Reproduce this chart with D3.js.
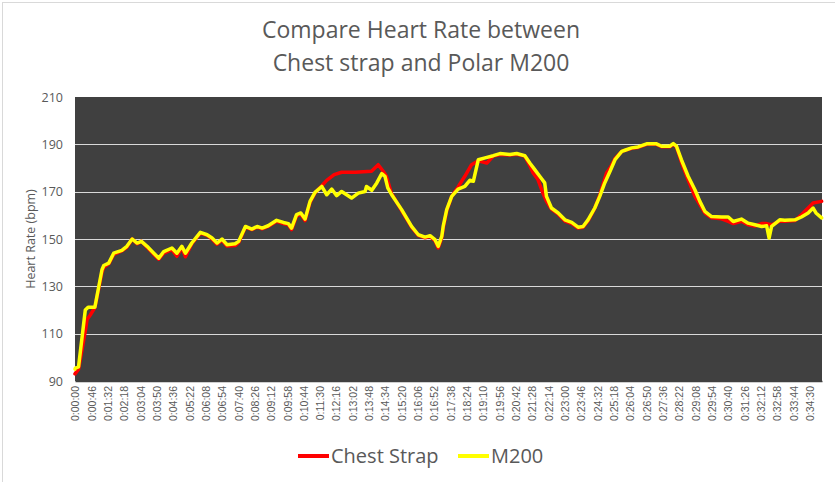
<!DOCTYPE html>
<html>
<head>
<meta charset="utf-8">
<script src="https://cdn.jsdelivr.net/npm/d3@7"></script>
<style>
  body { margin: 0; background: #fff; }
  text { fill: #595959; }
</style>
</head>
<body>
<script>
// chart size and plot box
const width = 835;
const height = 482;
const margin = { top: 97, right: 13, bottom: 101, left: 75 };

// elapsed time in seconds
const chestTime = [0, 10, 30, 34, 43, 56, 76, 81, 95, 109, 132, 146, 161, 175, 187, 203, 222, 236, 250, 273, 287, 301, 311, 329, 353, 372, 386, 400, 414, 428, 451, 461, 480, 498, 513, 527, 544, 568, 587, 601, 610, 624, 636, 648, 662, 676, 695, 709, 730, 751, 790, 835, 854, 868, 877, 891, 920, 948, 967, 986, 1000, 1014, 1023, 1033, 1037, 1047, 1061, 1079, 1098, 1117, 1136, 1160, 1178, 1197, 1225, 1244, 1267, 1281, 1290, 1304, 1318, 1328, 1342, 1361, 1380, 1399, 1417, 1431, 1445, 1464, 1478, 1497, 1507, 1521, 1540, 1568, 1586, 1610, 1638, 1652, 1675, 1685, 1694, 1708, 1727, 1746, 1760, 1774, 1793, 1821, 1840, 1854, 1877, 1896, 1915, 1934, 1948, 1962, 1985, 1999, 2028, 2046, 2060, 2079, 2103];
const chestHR = [93, 95, 112, 116, 117.9, 121, 136, 138, 139.5, 143.5, 145, 146.5, 150, 148, 149, 146.5, 143.5, 141.5, 144, 145.5, 142.7, 146.5, 142.5, 148, 152.5, 151.5, 150, 147.8, 149.5, 147, 147.2, 148.5, 155, 154, 155, 154.3, 155.3, 157.5, 156.5, 156, 154, 159.8, 160.5, 157.8, 165.5, 169.5, 172.5, 174.8, 177.2, 178.2, 178.2, 178.6, 181.4, 178.6, 176.5, 169.4, 162, 155, 151.5, 150.5, 151, 149.3, 146.2, 150.5, 154.5, 162, 168, 172, 176.5, 181.4, 183, 182.1, 185, 185.7, 185.5, 185.8, 185, 181, 178, 175.1, 169.4, 165.9, 162.6, 160.5, 157.6, 156.5, 154.6, 155, 157.6, 163, 168.5, 177.9, 180, 184, 187, 188.3, 188.7, 190, 190, 189, 189, 190, 189, 182.5, 175, 168, 164.5, 161, 159, 158.5, 157.4, 156.5, 157.5, 156, 155.5, 156.5, 156.5, 156, 157.5, 157.5, 157.8, 160.2, 162.4, 165.2, 165.9];

const m200Time = [0, 1, 10, 29, 37, 56, 76, 81, 95, 109, 132, 146, 161, 175, 187, 203, 222, 236, 250, 273, 287, 301, 311, 329, 353, 372, 386, 400, 414, 428, 451, 461, 480, 498, 513, 527, 544, 568, 587, 601, 610, 624, 636, 648, 662, 676, 695, 709, 723, 737, 751, 779, 798, 817, 821, 836, 850, 864, 873, 881, 892, 920, 948, 967, 986, 1000, 1014, 1023, 1033, 1037, 1047, 1061, 1079, 1098, 1112, 1122, 1136, 1155, 1178, 1197, 1225, 1244, 1267, 1281, 1295, 1309, 1323, 1328, 1342, 1361, 1380, 1399, 1417, 1431, 1445, 1464, 1478, 1492, 1507, 1521, 1540, 1549, 1568, 1586, 1610, 1638, 1652, 1675, 1685, 1694, 1708, 1727, 1746, 1760, 1774, 1793, 1821, 1840, 1854, 1877, 1896, 1915, 1934, 1948, 1955, 1962, 1985, 1999, 2028, 2046, 2065, 2079, 2087, 2103];
const m200HR = [95, 95.4, 96, 120, 121.2, 121.2, 137, 138.8, 139.8, 144, 145.2, 146.9, 150, 148.3, 149, 146.9, 144, 141.9, 144.7, 146.2, 144, 146.9, 144, 148.3, 152.8, 151.8, 150.4, 148.3, 150, 147.6, 148, 149, 155.3, 154.2, 155.3, 154.6, 155.6, 157.9, 157, 156.5, 154.6, 160.3, 161, 158.4, 165.9, 169.7, 172.2, 168.7, 171.1, 168.3, 170.1, 167.3, 169.4, 170.1, 172.2, 170.6, 173.7, 177.6, 176.5, 171.6, 168.7, 162.4, 155.3, 151.8, 150.8, 151.4, 149.7, 146.9, 151.1, 155.3, 162.4, 168, 171.1, 172.2, 174.8, 174.4, 183.5, 184.3, 185.2, 186.1, 185.7, 186.1, 185.2, 182.1, 179.3, 176.5, 173.7, 168, 163.1, 161, 158.1, 157, 155, 155.3, 158.1, 163.1, 168, 173.7, 178.6, 183.5, 187, 187.5, 188.5, 188.9, 190.2, 190.2, 189.2, 189.2, 190.3, 189.2, 183.5, 176.5, 170.8, 165.9, 161.7, 159.5, 159.3, 159.3, 157.4, 158.4, 156.7, 156, 155.3, 155.6, 150.4, 155.3, 158.1, 157.9, 158.1, 159.3, 161, 163.1, 161, 158.9];

const seriesNames = ["Chest Strap", "M200"];
const seriesColors = ["#ff0000", "#ffff00"];

// category labels every 46 s, 0:00:00 .. 0:34:30
const tickSeconds = d3.range(0, 2071, 46);
const yTicks = [90, 110, 130, 150, 170, 190, 210];

function fmtTime(s) {
  const h = Math.floor(s / 3600);
  const m = Math.floor((s % 3600) / 60);
  const sec = s % 60;
  return `${h}:${String(m).padStart(2, "0")}:${String(sec).padStart(2, "0")}`;
}

const svg = d3.select("body")
  .append("svg")
  .attr("width", width)
  .attr("height", height);

// chart area border
svg.append("rect")
  .attr("x", 2.5).attr("y", 2.5)
  .attr("width", width + 10).attr("height", height + 10)
  .attr("fill", "none")
  .attr("stroke", "#d9d9d9");

const x = d3.scaleLinear()
  .domain([0, 2104])
  .range([margin.left, width - margin.right]);

const y = d3.scaleLinear()
  .domain([90, 210])
  .range([height - margin.bottom, margin.top]);

// plot background
svg.append("rect")
  .attr("x", margin.left)
  .attr("y", margin.top)
  .attr("width", width - margin.left - margin.right)
  .attr("height", height - margin.top - margin.bottom)
  .attr("fill", "#404040");

// gridlines
svg.append("g")
  .selectAll("line")
  .data(yTicks.filter((d) => d > 90 && d < 210))
  .join("line")
  .attr("x1", margin.left)
  .attr("x2", width - margin.right)
  .attr("y1", (d) => Math.round(y(d)) + 0.5)
  .attr("y2", (d) => Math.round(y(d)) + 0.5)
  .attr("stroke", "#d9d9d9")
  .attr("stroke-width", 1.2);

// y axis labels
const yAxis = svg.append("g")
  .attr("transform", `translate(${margin.left},0)`)
  .call(d3.axisLeft(y).tickValues(yTicks).tickSize(0).tickPadding(12));
yAxis.select(".domain").remove();
yAxis.selectAll("text")
  .attr("font-family", "'Open Sans', sans-serif")
  .attr("font-size", 12.5)
  .attr("fill", "#595959");

// x axis
const xAxis = svg.append("g")
  .attr("transform", `translate(0,${height - margin.bottom})`)
  .call(d3.axisBottom(x).tickValues(tickSeconds).tickFormat(fmtTime).tickSize(0));
xAxis.select(".domain")
  .attr("stroke", "#404040")
  .attr("stroke-width", 1.5);
xAxis.selectAll("text")
  .attr("font-family", "'Liberation Sans', Arial, sans-serif")
  .attr("font-size", 10.5)
  .attr("fill", "#595959")
  .attr("text-anchor", "end")
  .attr("transform", "rotate(-90)")
  .attr("x", -5)
  .attr("y", 0)
  .attr("dy", "0.35em");

// series lines
const line = d3.line()
  .x((d) => x(d[0]))
  .y((d) => y(d[1]));

const series = [
  d3.zip(chestTime, chestHR),
  d3.zip(m200Time, m200HR),
];

svg.append("g")
  .selectAll("path")
  .data(series)
  .join("path")
  .attr("d", line)
  .attr("fill", "none")
  .attr("stroke", (d, i) => seriesColors[i])
  .attr("stroke-width", 3.5)
  .attr("stroke-linejoin", "round")
  .attr("stroke-linecap", "round");

// title
svg.append("text")
  .attr("x", 421)
  .attr("y", 38)
  .attr("text-anchor", "middle")
  .attr("font-family", "'Open Sans', sans-serif")
  .attr("font-size", 23)
  .text("Compare Heart Rate between");
svg.append("text")
  .attr("x", 421)
  .attr("y", 71)
  .attr("text-anchor", "middle")
  .attr("font-family", "'Open Sans', sans-serif")
  .attr("font-size", 23)
  .text("Chest strap and Polar M200");

// y title
svg.append("text")
  .attr("transform", "translate(35,239) rotate(-90)")
  .attr("text-anchor", "middle")
  .attr("font-family", "'Open Sans', sans-serif")
  .attr("font-size", 12.5)
  .text("Heart Rate (bpm)");

// legend
const legendX = [298, 458];
const legend = svg.append("g")
  .selectAll("g")
  .data(seriesNames)
  .join("g")
  .attr("transform", (d, i) => `translate(${legendX[i]},456)`);
legend.append("line")
  .attr("x1", 0).attr("x2", 31)
  .attr("stroke", (d, i) => seriesColors[i])
  .attr("stroke-width", 4);
legend.append("text")
  .attr("x", 33)
  .attr("y", 7)
  .attr("font-family", "'Open Sans', sans-serif")
  .attr("font-size", 20)
  .text((d) => d);
</script>
</body>
</html>
